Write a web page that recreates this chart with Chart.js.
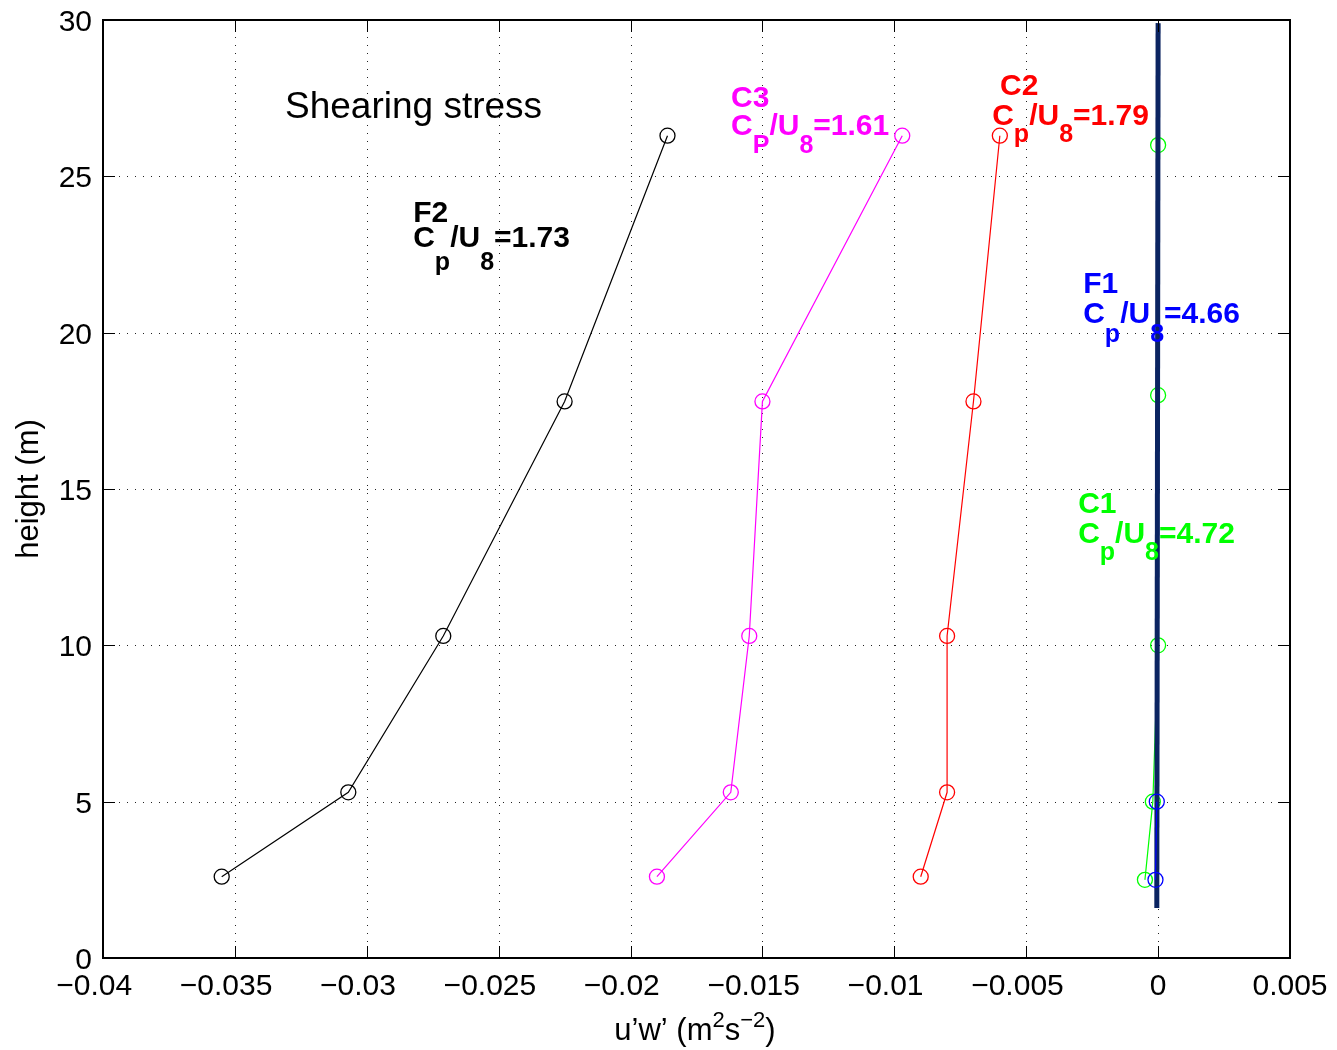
<!DOCTYPE html>
<html>
<head>
<meta charset="utf-8">
<script src="https://cdn.jsdelivr.net/npm/chart.js@4.4.0/dist/chart.umd.min.js"></script>
<style>
  body { margin: 0; background: #fff; }
  #wrap { width: 1337px; height: 1050px; }
</style>
</head>
<body>
<div id="wrap"><canvas id="stress" width="1337" height="1050"></canvas></div>
<script>
// heights of the sonic anemometers (m)
const heightsA = [2.6, 5.3, 10.3, 17.8, 26.3];
const heightsB = [2.5, 5.0, 10.0, 18.0, 26.0];

// u'w' per run (m^2 s^-2)
const uwF2 = [-0.0355, -0.0307, -0.0271, -0.0225, -0.0186];
const uwC3 = [-0.0190, -0.0162, -0.0155, -0.0150, -0.0097];
const uwC2 = [-0.0090, -0.0080, -0.0080, -0.0070, -0.0060];
const uwC1 = [-0.0005, -0.0002, 0.0, 0.0, 0.0];
const uwF1 = [-0.0001, -0.00005];
const heightsF1 = [2.5, 5.0];

// reference line near zero
const zeroLineX = [-0.00005, 0.0];
const zeroLineY = [1.6, 29.9];

const xTicks = [-0.04, -0.035, -0.03, -0.025, -0.02, -0.015, -0.01, -0.005, 0, 0.005];
const yTicks = [0, 5, 10, 15, 20, 25, 30];

const pts = (xs, ys) => xs.map((x, i) => ({ x: x, y: ys[i] }));

// labels for each run: [text, 0 normal | 1 subscript]
const runLabels = [
  { color: '#000000', x: -0.02824, y: 23.54, y2: 22.74, subOff: 23, title: 'F2',
    parts: [['C', 0], ['p', 1], ['/U', 0], ['8', 1], ['=1.73', 0]] },
  { color: '#ff00ff', x: -0.01619, y: 27.22, y2: 26.32, subOff: 18, title: 'C3',
    parts: [['C', 0], ['P', 1], ['/U', 0], ['8', 1], ['=1.61', 0]] },
  { color: '#ff0000', x: -0.00599, y: 27.60, y2: 26.64, x2: -0.00629, subOff: 17, title: 'C2',
    parts: [['C', 0], ['p', 1], ['/U', 0], ['8', 1], ['=1.79', 0]] },
  { color: '#0000ff', x: -0.00284, y: 21.27, y2: 20.31, subOff: 19, title: 'F1',
    parts: [['C', 0], ['p', 1], ['/U', 0], ['8', 1], ['=4.66', 0]] },
  { color: '#00ff00', x: -0.00303, y: 14.23, y2: 13.27, subOff: 17, title: 'C1',
    parts: [['C', 0], ['p', 1], ['/U', 0], ['8', 1], ['=4.72', 0]] }
];

const FONT = '"Liberation Sans", Arial, Helvetica, sans-serif';

function drawParts(ctx, x, y, parts, font, smallFont, offs) {
  let cx = x;
  parts.forEach(p => {
    ctx.font = p[1] ? smallFont : font;
    ctx.fillText(p[0], cx, y + (p[1] ? offs[p[1]] : 0));
    cx += ctx.measureText(p[0]).width;
  });
  return cx - x;
}

function partsWidth(ctx, parts, font, smallFont) {
  let w = 0;
  parts.forEach(p => {
    ctx.font = p[1] ? smallFont : font;
    w += ctx.measureText(p[0]).width;
  });
  return w;
}

function fmtTick(v) {
  const r = Math.round(v * 1e6) / 1e6;
  if (r === 0) return '0';
  return (r < 0 ? '\u2212' : '') + String(Math.abs(r));
}

// dotted grid, frame, inward ticks and tick labels
const framePlugin = {
  id: 'frame',
  beforeDatasetsDraw(chart) {
    const { ctx, chartArea: a, scales: { x, y } } = chart;
    ctx.save();
    ctx.strokeStyle = '#222';
    ctx.lineWidth = 1;
    ctx.setLineDash([1, 7]);
    xTicks.forEach(v => {
      const px = Math.round(x.getPixelForValue(v)) + 0.5;
      ctx.beginPath(); ctx.moveTo(px, a.bottom); ctx.lineTo(px, a.top); ctx.stroke();
    });
    yTicks.forEach(v => {
      const py = Math.round(y.getPixelForValue(v)) + 0.5;
      ctx.beginPath(); ctx.moveTo(a.left, py); ctx.lineTo(a.right, py); ctx.stroke();
    });
    ctx.restore();
  },
  afterDatasetsDraw(chart) {
    const { ctx, chartArea: a, scales: { x, y } } = chart;
    ctx.save();
    ctx.strokeStyle = '#000';
    ctx.lineWidth = 1;
    const tl = 12;
    xTicks.forEach(v => {
      const px = Math.round(x.getPixelForValue(v)) + 0.5;
      ctx.beginPath();
      ctx.moveTo(px, a.bottom); ctx.lineTo(px, a.bottom - tl);
      ctx.moveTo(px, a.top); ctx.lineTo(px, a.top + tl);
      ctx.stroke();
    });
    yTicks.forEach(v => {
      const py = Math.round(y.getPixelForValue(v)) + 0.5;
      ctx.beginPath();
      ctx.moveTo(a.left, py); ctx.lineTo(a.left + tl, py);
      ctx.moveTo(a.right, py); ctx.lineTo(a.right - tl, py);
      ctx.stroke();
    });
    ctx.lineWidth = 2;
    ctx.strokeRect(a.left, a.top, a.right - a.left, a.bottom - a.top);

    ctx.fillStyle = '#000';
    ctx.font = '30px ' + FONT;

    // x tick labels: the number is centred on the tick, a minus sign hangs to the left
    ctx.textBaseline = 'alphabetic';
    xTicks.forEach(v => {
      const s = fmtTick(v);
      const num = s.replace('\u2212', '');
      const px = x.getPixelForValue(v);
      const left = px - ctx.measureText(num).width / 2;
      ctx.textAlign = 'left';
      ctx.fillText(num, left, a.bottom + 37);
      if (s !== num) {
        ctx.textAlign = 'right';
        ctx.fillText('\u2212', left, a.bottom + 37);
      }
    });

    // y tick labels
    ctx.textAlign = 'right';
    yTicks.forEach(v => {
      ctx.fillText(fmtTick(v), a.left - 11, y.getPixelForValue(v) + 11);
    });
    ctx.restore();
  }
};

// title, run labels and axis titles
const textPlugin = {
  id: 'texts',
  afterDraw(chart) {
    const { ctx, chartArea: a, scales: { x, y } } = chart;
    ctx.save();
    ctx.textBaseline = 'alphabetic';
    ctx.textAlign = 'left';

    ctx.fillStyle = '#000';
    ctx.font = '37px ' + FONT;
    ctx.fillText('Shearing stress', x.getPixelForValue(-0.0331), y.getPixelForValue(26.87));

    const big = 'bold 30px ' + FONT;
    const small = 'bold 25px ' + FONT;
    runLabels.forEach(l => {
      ctx.fillStyle = l.color;
      ctx.font = big;
      const px = x.getPixelForValue(l.x);
      ctx.fillText(l.title, px, y.getPixelForValue(l.y));
      const px2 = x.getPixelForValue(l.x2 !== undefined ? l.x2 : l.x);
      drawParts(ctx, px2, y.getPixelForValue(l.y2), l.parts, big, small, [0, l.subOff]);
    });

    // axis titles
    ctx.fillStyle = '#000';
    const axFont = '31px ' + FONT;
    const supFont = '22px ' + FONT;
    const xt = [['u\u2019w\u2019 (m', 0], ['2', 1], ['s', 0], ['\u22122', 1], [')', 0]];
    const w = partsWidth(ctx, xt, axFont, supFont);
    drawParts(ctx, 695 - w / 2, 1040, xt, axFont, supFont, [0, -13]);

    ctx.font = axFont;
    ctx.translate(38, (a.top + a.bottom) / 2);
    ctx.rotate(-Math.PI / 2);
    ctx.textAlign = 'center';
    ctx.fillText('height (m)', 0, 0);
    ctx.restore();
  }
};

const ring = (color) => ({
  showLine: true,
  borderColor: color,
  backgroundColor: 'rgba(0,0,0,0)',
  borderWidth: 1.2,
  pointRadius: 7.5,
  pointBorderWidth: 1.3,
  pointBorderColor: color,
  pointBackgroundColor: 'rgba(0,0,0,0)',
  tension: 0
});

new Chart(document.getElementById('stress'), {
  type: 'scatter',
  data: {
    datasets: [
      Object.assign({ label: 'F2', data: pts(uwF2, heightsA), order: 5 }, ring('#000000')),
      Object.assign({ label: 'C3', data: pts(uwC3, heightsA), order: 4 }, ring('#ff00ff')),
      Object.assign({ label: 'C2', data: pts(uwC2, heightsA), order: 3 }, ring('#ff0000')),
      Object.assign({ label: 'C1', data: pts(uwC1, heightsB), order: 2 }, ring('#00ff00')),
      { label: 'zero', data: pts(zeroLineX, zeroLineY), order: 1, showLine: true,
        borderColor: '#0b2461', borderWidth: 5, pointRadius: 0, borderCapStyle: 'butt' },
      Object.assign({ label: 'F1', data: pts(uwF1, heightsF1), order: 0 }, ring('#0000ff'))
    ]
  },
  options: {
    responsive: false,
    animation: false,
    events: [],
    layout: { padding: { top: 20, right: 47, left: 0, bottom: 0 } },
    plugins: { legend: { display: false }, tooltip: { enabled: false } },
    scales: {
      x: {
        type: 'linear',
        min: -0.04,
        max: 0.005,
        afterFit: s => { s.height = 92; },
        afterBuildTicks: s => { s.ticks = xTicks.map(v => ({ value: v })); },
        grid: { display: false },
        border: { display: false },
        ticks: { display: false }
      },
      y: {
        type: 'linear',
        min: 0,
        max: 30,
        afterFit: s => { s.width = 103; },
        afterBuildTicks: s => { s.ticks = yTicks.map(v => ({ value: v })); },
        grid: { display: false },
        border: { display: false },
        ticks: { display: false }
      }
    }
  },
  plugins: [framePlugin, textPlugin]
});
</script>
</body>
</html>
